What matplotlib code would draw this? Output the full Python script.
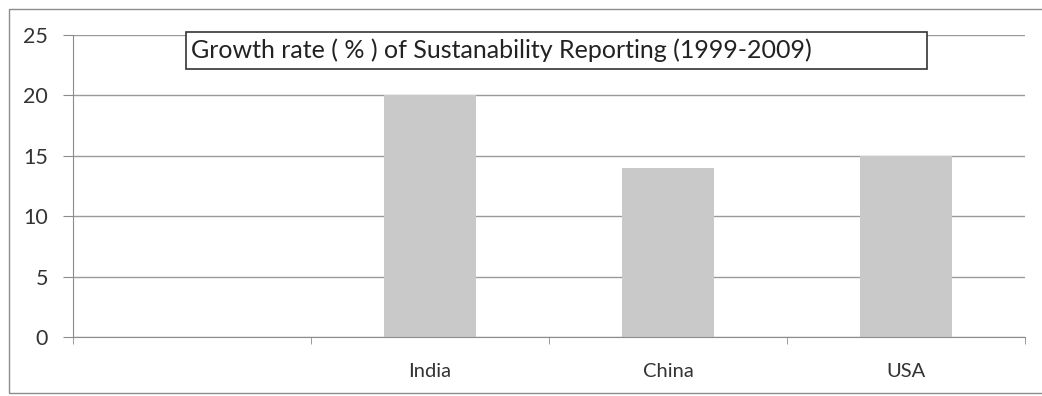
import numpy as np
import matplotlib.pyplot as plt
from matplotlib.patches import Rectangle

# Growth rate of sustainability reporting by country
countries = ["", "India", "China", "USA"]
growth_rate = [np.nan, 20, 14, 15]
y_ticks = [0, 5, 10, 15, 20, 25]
title = "Growth rate ( % ) of Sustanability Reporting (1999-2009)"

plt.rcParams["font.family"] = ["Lato", "DejaVu Sans"]

W, H = 1042, 396
fig = plt.figure(figsize=(W / 100, H / 100), dpi=100)

# outer chart frame
fig.patches.append(Rectangle((9 / W, 1 - 393 / H), (W + 10 - 9) / W, (393 - 9) / H,
                             transform=fig.transFigure, fill=False,
                             edgecolor="#8c8c8c", linewidth=1.0))

ax = fig.add_axes([73 / W, 1 - 337 / H, (1025 - 73) / W, (337 - 35) / H])
x = np.arange(len(countries))
ax.bar(x, growth_rate, width=0.39, color="#c9c9c9", zorder=2)

ax.set_xlim(-0.5, len(countries) - 0.5)
ax.set_ylim(0, 25)
ax.set_yticks(y_ticks)
ax.yaxis.grid(True, color="#9a9a9a", linewidth=1.0, zorder=0)

# category labels sit between the boundary ticks
ax.set_xticks(x)
ax.set_xticklabels(countries)
ax.set_xticks(np.arange(-0.5, len(countries)), minor=True)
ax.tick_params(axis="x", which="major", length=0, pad=19, labelsize=14.5, labelcolor="#333333")
ax.tick_params(axis="x", which="minor", length=5, color="#8c8c8c", direction="out")
ax.tick_params(axis="y", length=7, color="#8c8c8c", pad=11, labelsize=15.5, labelcolor="#333333")

for side in ["top", "right"]:
    ax.spines[side].set_visible(False)
for side in ["left", "bottom"]:
    ax.spines[side].set_color("#8c8c8c")

# boxed title inside the plot
fig.patches.append(Rectangle((186 / W, 1 - 69 / H), (927 - 186) / W, (69 - 32) / H,
                             transform=fig.transFigure, facecolor="white",
                             edgecolor="#333333", linewidth=1.2, zorder=5))
fig.text(191 / W, 1 - 50 / H, title, ha="left", va="center",
         fontsize=18, color="#222222", zorder=6)

fig.savefig("out.png", dpi=100)
